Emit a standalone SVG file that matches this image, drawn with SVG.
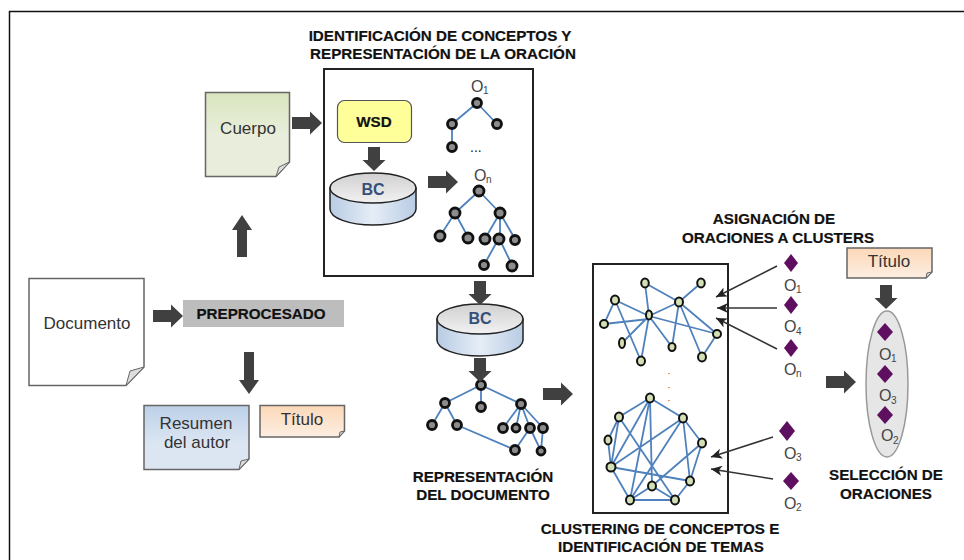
<svg xmlns="http://www.w3.org/2000/svg" width="964" height="560" viewBox="0 0 964 560">
<style>
text{font-family:"Liberation Sans",Arial,sans-serif;fill:#222}
.t{font-size:15.200px;font-weight:bold;fill:#111;stroke:#111;stroke-width:.2;text-anchor:middle}
.n{font-size:17px;text-anchor:middle;fill:#333}
.o{font-size:16px;fill:#444}
.s{font-size:10px;fill:#444}
.doc{stroke:#666;stroke-width:1.5}
.fold{fill:#ddd;stroke:#666;stroke-width:1}
.e{stroke:#4f81bd;stroke-width:1.8;fill:none}
.ng{fill:#8c8c8c;stroke:#111;stroke-width:2.800}
.ny{fill:#d3e0b5;stroke:#111;stroke-width:2}
.d{fill:#5f0f5f}
.ar{fill:#404040}
.pt{stroke:#333;stroke-width:1.5;fill:none;marker-end:url(#h)}
.box{fill:#fff;stroke:#222;stroke-width:2}
.dot{font-size:10px;text-anchor:middle;fill:#a33}
</style>
<defs>
<marker id="h" markerUnits="userSpaceOnUse" markerWidth="12" markerHeight="12" refX="11" refY="5" orient="auto"><path d="M0 0L11 5L0 10L3 5Z" fill="#222"/></marker>
<linearGradient id="gg" x1="0" y1="0" x2="0" y2="1"><stop offset="0" stop-color="#d9e5bf"/><stop offset=".5" stop-color="#e8eedb"/></linearGradient>
<linearGradient id="gb" x1="0" y1="0" x2="0" y2="1"><stop offset="0" stop-color="#bcd0e8"/><stop offset=".6" stop-color="#dce6f2"/></linearGradient>
<linearGradient id="go" x1="0" y1="0" x2="0" y2="1"><stop offset="0" stop-color="#fbd8b8"/><stop offset="1" stop-color="#fdeee2"/></linearGradient>
<linearGradient id="gc" x1="0" y1="0" x2="1" y2="0"><stop offset="0" stop-color="#b8cce4"/><stop offset=".5" stop-color="#e6edf6"/><stop offset="1" stop-color="#b8cce4"/></linearGradient>
<linearGradient id="gt" x1="0" y1="0" x2="0" y2="1"><stop offset="0" stop-color="#d0d0d0"/><stop offset="1" stop-color="#f2f2f2"/></linearGradient>
<path id="ra" class="ar" d="M0-6H18V-11.500L30 0L18 11.500V6H0Z"/>
<path id="da" class="ar" d="M-6 0H6V13H11.500L0 24L-11.500 13H-6Z"/>
<g id="cyl"><path d="M-43 0V21C-43 30-24 37 0 37S43 30 43 21V0Z" fill="url(#gc)" stroke="#222" stroke-width="1.500"/><ellipse rx="43" ry="15" fill="url(#gt)" stroke="#222" stroke-width="1.500"/></g>
</defs>
<rect width="964" height="560" fill="#fff"/>
<path d="M9.500 560V11.500H964" fill="none" stroke="#111" stroke-width="1.500"/>

<g id="cuerpo"><path class="doc" fill="url(#gg)" d="M205.500 92.500H289.500V162L276 176.500H205.500Z"/><path class="fold" fill="#ccc" d="M276 176.500L279 167L289.500 162Z"/><text class="n" x="248" y="134">Cuerpo</text></g>
<g id="documento"><path class="doc" fill="#fff" d="M29 278.500H144V367L126 385.500H29Z"/><path class="fold" fill="#fff" d="M126 385.500L130 371L144 367Z"/><text class="n" x="87" y="329">Documento</text></g>
<g id="preprocesado"><rect x="183" y="300" width="161" height="27" fill="#bdbdbd"/><text class="t" x="261" y="319">PREPROCESADO</text></g>
<g id="resumen"><path class="doc" fill="url(#gb)" d="M144 405.500H249V459L239 469.500H144Z"/><path class="fold" d="M239 469.500L241 461L249 459Z"/><text class="n" x="196" y="429">Resumen</text><text class="n" x="197" y="448">del autor</text></g>
<g id="titulo1"><path class="doc" fill="url(#go)" d="M260 405.500H344.500V431L339 437H260Z"/><path class="fold" fill="#666" d="M339 437L340 432L344.500 431Z"/><text class="n" x="302" y="425">Título</text></g>

<g id="oracion-title"><text class="t" x="440" y="41">IDENTIFICACIÓN DE CONCEPTOS Y</text><text class="t" x="443" y="59">REPRESENTACIÓN DE LA ORACIÓN</text></g>
<g id="oracion"><rect class="box" x="324" y="69" width="209" height="207"/></g>
<g id="wsd"><rect x="337.500" y="100.500" width="74" height="42" rx="7" fill="#ffff99" stroke="#555" stroke-width="1.200"/><text class="t" x="374" y="127">WSD</text></g>
<g id="bc1"><use href="#cyl" x="373" y="188"/><text x="373" y="195" text-anchor="middle" style="font-size:16px;font-weight:bold;fill:#35507a">BC</text></g>

<g id="tree-o1">
<path class="e" d="M477 103L452 124M477 103L497 124M452 124V147"/>
<g class="ng"><circle cx="477" cy="103" r="4.500"/><circle cx="452" cy="124" r="4.500"/><circle cx="497" cy="124" r="4.500"/><circle cx="452" cy="147" r="4.500"/></g>
<text class="o" x="471" y="92">O</text><text class="s" x="483" y="94">1</text>
<text x="470" y="152" style="font-size:14px">...</text>
</g>
<g id="tree-on">
<path class="e" d="M479 191L455 213M479 191L500 213M455 213L440 236M455 213L468 237M500 213L486 237M500 213V238M500 213L515 239M499 238L484 265M499 238L512 265"/>
<g class="ng"><circle cx="479" cy="191" r="5"/><circle cx="455" cy="213" r="5"/><circle cx="500" cy="213" r="5"/><circle cx="440" cy="236" r="5"/><circle cx="468" cy="238" r="5"/><circle cx="485" cy="239" r="5"/><circle cx="499" cy="239" r="5"/><circle cx="515" cy="240" r="4.500"/><circle cx="484" cy="265" r="4.500"/><circle cx="512" cy="266" r="5"/></g>
<text class="o" x="474" y="181">O</text><text class="s" x="486" y="183">n</text>
</g>

<g id="bc2"><use href="#cyl" x="480" y="319"/><text x="480" y="324" text-anchor="middle" style="font-size:16px;font-weight:bold;fill:#35507a">BC</text></g>
<g id="tree-doc">
<path class="e" d="M481 385L445 403M481 385V407M481 385L521 404M445 403L432 425M445 403L457 425M457 425L515 450M521 404L503 428M521 404L516 428M521 404L530 428M521 404L543 428M530 428L515 450M530 428L541 451M543 428L541 451"/>
<g class="ng"><circle cx="481" cy="385" r="4.500"/><circle cx="445" cy="403" r="4.500"/><circle cx="481" cy="407" r="4.500"/><circle cx="521" cy="404" r="4.500"/><circle cx="432" cy="425" r="4.500"/><circle cx="457" cy="425" r="4.500"/><circle cx="503" cy="428" r="4.500"/><circle cx="516" cy="428" r="4"/><circle cx="530" cy="428" r="4.500"/><circle cx="543" cy="428" r="4.500"/><circle cx="515" cy="450" r="4.500"/><circle cx="541" cy="451" r="4"/></g>
</g>
<g id="doc-title"><text class="t" x="483" y="482">REPRESENTACIÓN</text><text class="t" x="483" y="500">DEL DOCUMENTO</text></g>

<g id="clusters"><rect class="box" x="593" y="264" width="135" height="249"/></g>
<g id="cluster-a">
<path class="e" d="M645 283L679 302M645 283L649 316M701 283L679 302M615 300L649 316M615 300L604 324M615 300L641 361M604 324L649 319M649 316L679 302M649 316L622 343M649 316L641 361M649 316L672 347M649 316L717 334M679 302L672 347M679 302L702 357M679 302L717 334M717 334L702 357"/>
<g class="ny"><ellipse cx="645" cy="283" rx="3.800" ry="4.500"/><ellipse cx="701" cy="283" rx="3.800" ry="4.500"/><ellipse cx="615" cy="300" rx="4" ry="4.500"/><ellipse cx="679" cy="302" rx="4" ry="4.500"/><ellipse cx="649" cy="315" rx="3" ry="4.500"/><ellipse cx="604" cy="324" rx="4" ry="4"/><ellipse cx="622" cy="343" rx="3" ry="5"/><ellipse cx="717" cy="334" rx="4" ry="4"/><ellipse cx="672" cy="347" rx="3.500" ry="4"/><ellipse cx="641" cy="361" rx="4" ry="4.500"/><ellipse cx="702" cy="357" rx="4" ry="4.500"/></g>
</g>
<g id="dots"><text class="dot" x="669" y="377">·</text><text class="dot" x="669" y="390.500">·</text><text class="dot" x="669" y="404">·</text></g>
<g id="cluster-b">
<path class="e" d="M650 398L619 417M650 398L683 418M650 398L611 467M650 398L652 486M650 398L630 500M619 417L608 440M619 417L611 467M619 417L675 500M608 440L611 467M683 418L702 443M683 418L611 467M683 418L690 481M683 418L630 500M702 443L690 481M702 443L652 486M611 467L690 481M611 467L630 500M652 486L630 500M652 486L675 500M630 500L675 500M675 500L690 481"/>
<g class="ny"><ellipse cx="650" cy="398" rx="4" ry="4.500"/><ellipse cx="619" cy="417" rx="4" ry="4.500"/><ellipse cx="683" cy="418" rx="4" ry="4.500"/><ellipse cx="702" cy="443" rx="4" ry="4.500"/><ellipse cx="608" cy="440" rx="3.500" ry="4.500"/><ellipse cx="611" cy="467" rx="4.500" ry="4.500"/><ellipse cx="690" cy="481" rx="4" ry="4.500"/><ellipse cx="652" cy="486" rx="4" ry="4.500"/><ellipse cx="630" cy="500" rx="4" ry="4.500"/><ellipse cx="675" cy="500" rx="4" ry="4.500"/></g>
</g>
<g id="cluster-title"><text class="t" x="660" y="534">CLUSTERING DE CONCEPTOS E</text><text class="t" x="661" y="552">IDENTIFICACIÓN DE TEMAS</text></g>
<g id="asig-title"><text class="t" x="774" y="224">ASIGNACIÓN DE</text><text class="t" x="778" y="243">ORACIONES A CLUSTERS</text></g>

<g id="o-list">
<path class="d" d="M791 254l7 9l-7 9l-7-9Z"/><text class="o" x="784" y="291">O</text><text class="s" x="796" y="293">1</text>
<path class="d" d="M791 296l7 9l-7 9l-7-9Z"/><text class="o" x="784" y="332">O</text><text class="s" x="796" y="335">4</text>
<path class="d" d="M791 339l7 9l-7 9l-7-9Z"/><text class="o" x="784" y="375">O</text><text class="s" x="796" y="377">n</text>
<path class="d" d="M787 421l8 10l-8 10l-8-10Z"/><text class="o" x="784" y="459">O</text><text class="s" x="796" y="461">3</text>
<path class="d" d="M791 472l8 9l-8 9l-8-9Z"/><text class="o" x="784" y="509">O</text><text class="s" x="796" y="511">2</text>
</g>

<g id="titulo2"><path class="doc" fill="url(#go)" d="M847 248H932V272L926 278H847Z"/><path class="fold" fill="#666" d="M926 278L927 273L932 272Z"/><text class="n" x="889" y="267">Título</text></g>
<g id="seleccion"><ellipse cx="887" cy="384" rx="21" ry="73" fill="#e6e6e6" stroke="#999" stroke-width="1.500"/>
<path class="d" d="M885 323l8 9l-8 9l-8-9Z"/><text class="o" x="879" y="360">O</text><text class="s" x="891" y="362">1</text>
<path class="d" d="M885 365l8 9l-8 9l-8-9Z"/><text class="o" x="879" y="401">O</text><text class="s" x="891" y="404">3</text>
<path class="d" d="M885 406l8 9l-8 9l-8-9Z"/><text class="o" x="881" y="441">O</text><text class="s" x="893" y="444">2</text>
</g>
<g id="sel-title"><text class="t" x="886" y="480">SELECCIÓN DE</text><text class="t" x="886" y="499">ORACIONES</text></g>

<g id="connectors">
<use href="#ra" x="292" y="123"/>
<path class="ar" d="M237 257V230H232L242 215L252 230H247V257Z"/>
<use href="#ra" x="153" y="316"/>
<path class="ar" d="M244 352H254V380H259L249 394L239 380H244Z"/>
<use href="#da" x="374" y="147"/>
<use href="#ra" x="428" y="182"/>
<use href="#da" x="480" y="281"/>
<use href="#da" x="480" y="358"/>
<use href="#ra" x="543" y="394"/>
<use href="#ra" x="826" y="382"/>
<use href="#da" x="886" y="285"/>
<path class="pt" d="M777 266L716 297"/>
<path class="pt" d="M777 308H717"/>
<path class="pt" d="M777 349L716 318"/>
<path class="pt" d="M773 437L711 457"/>
<path class="pt" d="M773 479L711 469"/>
</g>
</svg>
